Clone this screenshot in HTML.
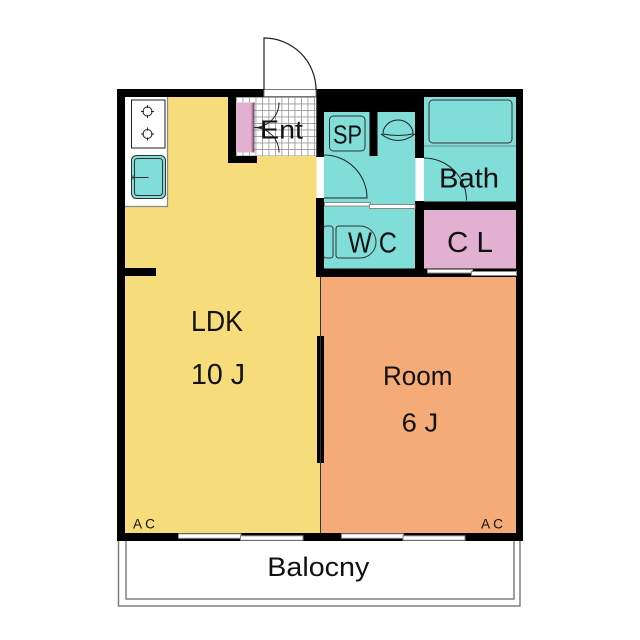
<!DOCTYPE html>
<html><head><meta charset="utf-8"><style>
html,body{margin:0;padding:0;background:#fff;}
svg{display:block;}
text{font-family:"Liberation Sans",sans-serif;fill:#111;}
</style></head><body>
<svg width="640" height="640" viewBox="0 0 640 640" xmlns="http://www.w3.org/2000/svg">
<defs>
<pattern id="tile" x="236" y="97" width="6.5" height="6.5" patternUnits="userSpaceOnUse">
<rect width="6.5" height="6.5" fill="#fff"/>
<path d="M0,0.4H6.5M0.4,0V6.5" stroke="#9a9a9a" stroke-width="0.9"/>
</pattern>
</defs>
<rect width="640" height="640" fill="#fff"/>

<!-- Balcony -->
<rect x="118.5" y="538" width="401.5" height="68" fill="#fff" stroke="#777" stroke-width="1.4"/>
<rect x="126" y="538" width="388" height="61" fill="#fff" stroke="#777" stroke-width="1.4"/>

<!-- Room fills -->
<rect x="125" y="97" width="195" height="437" fill="#F6DC7B"/>
<rect x="320" y="277" width="197" height="257" fill="#F5AB78"/>
<rect x="324" y="112" width="92" height="157" fill="#80DDD8"/>
<rect x="424" y="97" width="93" height="105" fill="#80DDD8"/>
<rect x="424" y="210" width="93" height="59" fill="#E2B1D2"/>

<!-- Entrance tiles -->
<rect x="236" y="97" width="80" height="59" fill="url(#tile)"/>
<rect x="236" y="102.5" width="16" height="50" fill="#E2B1D2"/>
<rect x="251.5" y="102.5" width="2.5" height="50" fill="#B8739D"/>
<line x1="254" y1="102.5" x2="254" y2="152.5" stroke="#333" stroke-width="0.8"/>
<path d="M279,102.5 A25,25 0 0 1 254,127.5 M254,127.5 A25,25 0 0 1 279,152.5 M254,127.5 H262" fill="none" stroke="#222" stroke-width="1"/>

<!-- Kitchen counter -->
<rect x="125" y="97" width="43" height="110" fill="#fff"/>
<path d="M167.5,97 V206.5 H125" fill="none" stroke="#8a8a8a" stroke-width="1.2"/>
<rect x="131.5" y="100" width="33.5" height="48" fill="#fff" stroke="#222" stroke-width="1"/>
<g stroke="#222" stroke-width="1" fill="none">
<circle cx="147.5" cy="111.5" r="4.5"/>
<path d="M147.5,105V108M147.5,115V118M141,111.5H144M151,111.5H154"/>
<circle cx="147.5" cy="134" r="4.5"/>
<path d="M147.5,127.5V130.5M147.5,137.5V140.5M141,134H144M151,134H154"/>
</g>
<rect x="131.5" y="155.5" width="34" height="43" rx="5" fill="#80DDD8" stroke="#333" stroke-width="1"/>
<rect x="134.5" y="158.5" width="28" height="37" rx="3" fill="none" stroke="#333" stroke-width="1"/>
<path d="M131.5,177.5 H148.5 M133,175.5 V179.5" stroke="#333" stroke-width="1"/>

<!-- Bath tub -->
<path d="M424,146 H516" stroke="#6a8a88" stroke-width="1"/>
<rect x="429" y="100" width="83" height="43" rx="4" fill="none" stroke="#333" stroke-width="1"/>

<!-- SP box -->
<rect x="329.5" y="116" width="35.5" height="35" rx="4" fill="none" stroke="#333" stroke-width="1"/>

<!-- washbasin -->
<path d="M383,134 A15,14 0 0 1 413,134 Q398,137 383,134 Z" fill="none" stroke="#222" stroke-width="1"/>
<path d="M381,134 Q398,147 415,134" fill="none" stroke="#222" stroke-width="1"/>

<!-- Toilet -->
<rect x="323.5" y="226" width="9.5" height="32" rx="2.5" fill="none" stroke="#333" stroke-width="1"/>
<path d="M339,226 H360 A16,16 0 0 1 360,258 H339 Q336,258 336,255 V229 Q336,226 339,226 Z" fill="none" stroke="#333" stroke-width="1"/>

<!-- Walls -->
<g fill="#000">
<rect x="117" y="89" width="147" height="8"/>
<rect x="316" y="89" width="207" height="8"/>
<rect x="316" y="89" width="99" height="23"/>
<rect x="117" y="89" width="8" height="452"/>
<rect x="117" y="533" width="406" height="8"/>
<rect x="516" y="89" width="7" height="452"/>
<rect x="228" y="89" width="8" height="74"/>
<rect x="228" y="156" width="29" height="7"/>
<rect x="316" y="89" width="8" height="68"/>
<rect x="316" y="198" width="8" height="79"/>
<rect x="369.5" y="112" width="8" height="44"/>
<rect x="415" y="89" width="9" height="69"/>
<rect x="415" y="201" width="9" height="76"/>
<rect x="415" y="201.5" width="108" height="8.5"/>
<rect x="316" y="268.5" width="207" height="8.5"/>
<rect x="125" y="268" width="31" height="8"/>
<rect x="317" y="336" width="7" height="127"/>
</g>
<line x1="320.5" y1="277" x2="320.5" y2="533" stroke="#333" stroke-width="1"/>
<line x1="316.5" y1="97" x2="316.5" y2="156" stroke="#555" stroke-width="1"/>

<!-- Exterior door -->
<rect x="264" y="89.5" width="52" height="7" fill="#fff" stroke="#777" stroke-width="1"/>
<path d="M264,90 V38 A52,52 0 0 1 316,90" fill="none" stroke="#222" stroke-width="1.2"/>

<!-- Washroom door -->
<rect x="316.5" y="157" width="7" height="41" fill="#fff"/>
<path d="M324,155 A43,43 0 0 1 367,198 H324" fill="none" stroke="#222" stroke-width="1"/>
<!-- Bath door -->
<rect x="415.5" y="158" width="8" height="43" fill="#fff"/>
<path d="M424,158 A42.5,42.5 0 0 1 466.5,200.5" fill="none" stroke="#222" stroke-width="1"/>

<!-- windows -->
<g stroke="#888" stroke-width="1" fill="#fff">
<rect x="324.5" y="202.5" width="46" height="3.5"/>
<rect x="369.5" y="204.5" width="45.5" height="4"/>
<rect x="427.5" y="269.5" width="45" height="3.5"/>
<rect x="471.5" y="271.5" width="45" height="4"/>
<rect x="178.5" y="533.8" width="62.5" height="4.5"/>
<rect x="240.5" y="535.8" width="62.5" height="4.5"/>
<rect x="341.5" y="533.8" width="62" height="4.5"/>
<rect x="403" y="535.8" width="62" height="4.5"/>
</g>

<!-- Labels -->
<text x="260" y="138.5" font-size="26" textLength="43" lengthAdjust="spacingAndGlyphs">Ent</text>
<text x="333" y="143.5" font-size="26" textLength="29" lengthAdjust="spacingAndGlyphs">SP</text>
<text x="439" y="187.3" font-size="28" textLength="60" lengthAdjust="spacingAndGlyphs">Bath</text>
<text x="348" y="252.7" font-size="29" textLength="49" lengthAdjust="spacingAndGlyphs">W C</text>
<text x="447" y="252.2" font-size="29" textLength="46" lengthAdjust="spacingAndGlyphs">C L</text>
<text x="191" y="330.8" font-size="28.5" textLength="52" lengthAdjust="spacingAndGlyphs">LDK</text>
<text x="191" y="384" font-size="28.5" textLength="54" lengthAdjust="spacingAndGlyphs">10 J</text>
<text x="383" y="385" font-size="26.5" textLength="69.5" lengthAdjust="spacingAndGlyphs">Room</text>
<text x="401.7" y="431.7" font-size="25.5" textLength="36.5" lengthAdjust="spacingAndGlyphs">6 J</text>
<text x="133" y="528.3" font-size="13.5" textLength="22" lengthAdjust="spacingAndGlyphs">A C</text>
<text x="481" y="528.3" font-size="13.5" textLength="22" lengthAdjust="spacingAndGlyphs">A C</text>
<text x="267.3" y="576" font-size="27" textLength="102" lengthAdjust="spacingAndGlyphs">Balocny</text>
</svg>
</body></html>
